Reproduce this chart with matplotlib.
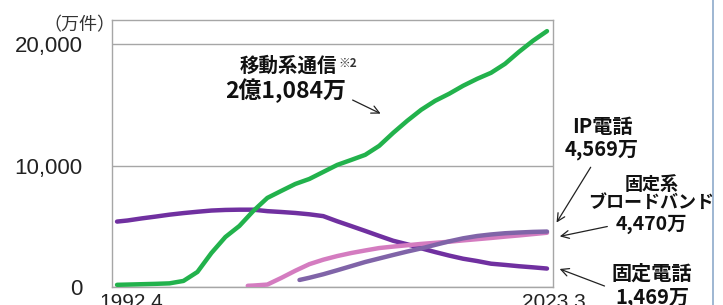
"""
    移動系通信・固定系ブロードバンド等の契約数の推移 (再現)
"""
import matplotlib
matplotlib.use('Agg')
import matplotlib.pyplot as plt
import matplotlib.transforms as mtransforms
from matplotlib.lines import Line2D

plt.rcParams['font.family'] = ['Noto Sans CJK JP', 'DejaVu Sans']

# Dados (万件)
anos = [1992.25, 1993, 1994, 1995, 1996, 1997, 1998, 1999, 2000, 2001, 2002,
        2003, 2004, 2005, 2006, 2007, 2008, 2009, 2010, 2011, 2012, 2013,
        2014, 2015, 2016, 2017, 2018, 2019, 2020, 2021, 2022, 2023]
movel = [180, 200, 230, 260, 300, 500, 1240, 2800, 4120, 5030, 6270,
         7340, 7920, 8490, 8900, 9480, 10060, 10470, 10890, 11630, 12700, 13690,
         14600, 15340, 15920, 16580, 17150, 17650, 18390, 19380, 20290, 21084]
fixo = [5390, 5480, 5650, 5800, 5960, 6090, 6200, 6300, 6350, 6370, 6370,
        6250, 6180, 6100, 5990, 5840, 5415, 5020, 4620, 4210, 3810, 3520,
        3190, 2880, 2590, 2330, 2140, 1920, 1820, 1710, 1620, 1520]

anos_bb = [2001.6, 2002, 2003, 2004, 2005, 2006, 2007, 2008, 2009, 2010, 2011,
           2012, 2013, 2014, 2015, 2016, 2017, 2018, 2019, 2020, 2021, 2022, 2023]
banda_larga = [100, 120, 200, 750, 1340, 1880, 2250, 2550, 2800, 3010, 3210,
               3330, 3440, 3550, 3640, 3730, 3840, 3940, 4040, 4150, 4250, 4360, 4470]

anos_ip = [2005.3, 2006, 2007, 2008, 2009, 2010, 2011, 2012, 2013, 2014, 2015,
           2016, 2017, 2018, 2019, 2020, 2021, 2022, 2023]
ip = [580, 760, 1050, 1380, 1720, 2060, 2350, 2640, 2920, 3180, 3470,
      3760, 4010, 4200, 4330, 4430, 4490, 4540, 4569]

yticks = [0, 10000, 20000]
ytick_labels = ['0', '10,000', '20,000']
xticks = [1992.25, 2023]
xtick_labels = ['1992.4', '2023.3']

cinza = '#a6a6a6'

fig = plt.figure(figsize=(7.23, 3.05), dpi=100)
ax = fig.add_axes([112/723, 1 - 287/305, (553 - 112)/723, (287 - 20)/305])

ax.plot(anos, fixo, color='#7030a0', lw=3.2, solid_capstyle='round', zorder=2)
ax.plot(anos_bb, banda_larga, color='#d47cc0', lw=3.2, solid_capstyle='round', zorder=3)
ax.plot(anos_ip, ip, color='#8064a8', lw=3.2, solid_capstyle='round', zorder=4)
ax.plot(anos, movel, color='#22b24c', lw=3.2, solid_capstyle='round', zorder=5)

ax.set_xlim(1991.89, 2023.43)
ax.set_ylim(0, 22000)
ax.set_yticks(yticks)
ax.set_yticklabels(ytick_labels, family='Liberation Sans', fontsize=16, color='#222222')
ax.set_xticks(xticks)
ax.set_xticklabels(xtick_labels, family='Liberation Sans', fontsize=15, color='#222222')
ax.tick_params(axis='y', length=0, pad=21)
ax.tick_params(axis='x', length=0, pad=4)
# desloca os rótulos do eixo x como no original
desloc = [14, 7]
for lab, dx in zip(ax.get_xticklabels(), desloc):
    lab.set_transform(lab.get_transform() + mtransforms.ScaledTranslation(dx/100, 0, fig.dpi_scale_trans))

ax.grid(axis='y', color=cinza, lw=1.0)
ax.set_axisbelow(True)
for s in ax.spines.values():
    s.set_color(cinza)
    s.set_linewidth(1.0)

fig.text(79/723, 1 - 25/305, '（万件）', fontsize=13, color='#333333', ha='center', va='center')

# Anotações
kw = dict(fontweight='bold', color='#111111', ha='center', va='center', clip_on=False)
seta = dict(arrowstyle='->', color='#222222', lw=0.9, mutation_scale=14)

ax.text(2007.99, 18227, '移動系通信', fontsize=14, **{**kw, 'ha': 'right'})
ax.text(2008.1, 18450, '※2', fontsize=8.5, fontweight='bold', color='#333333', ha='left', va='center')
ax.text(2004.34, 16165, '2億1,084万', fontsize=16.5, **kw)
ax.annotate('', xy=(2011.28, 14186), xytext=(2008.92, 15505), arrowprops=seta,
            annotation_clip=False)

ax.text(2026.94, 13196, 'IP電話', fontsize=14.5, **kw)
ax.text(2026.94, 11299, '4,569万', fontsize=14.5, **kw)
ax.annotate('', xy=(2023.58, 5113), xytext=(2026.23, 10062), arrowprops=seta,
            annotation_clip=False)

ax.text(2030.45, 8412, '固定系', fontsize=13, **kw)
ax.text(2030.45, 6928, 'ブロードバンド', fontsize=13, **kw)
ax.text(2030.45, 5196, '4,470万', fontsize=14, **kw)
ax.annotate('', xy=(2023.72, 4124), xytext=(2027.51, 5031), arrowprops=seta,
            annotation_clip=False)

ax.text(2030.52, 1155, '固定電話', fontsize=14.5, **kw)
ax.text(2030.52, -825, '1,469万', fontsize=14.5, **kw)
ax.annotate('', xy=(2023.72, 1567), xytext=(2027.30, 0), arrowprops=seta,
            annotation_clip=False)

# borda direita do slide
fig.add_artist(Line2D([713/723, 713/723], [0, 1], color='#8eaacb', lw=1.2))

fig.savefig('out.png', dpi=100)
